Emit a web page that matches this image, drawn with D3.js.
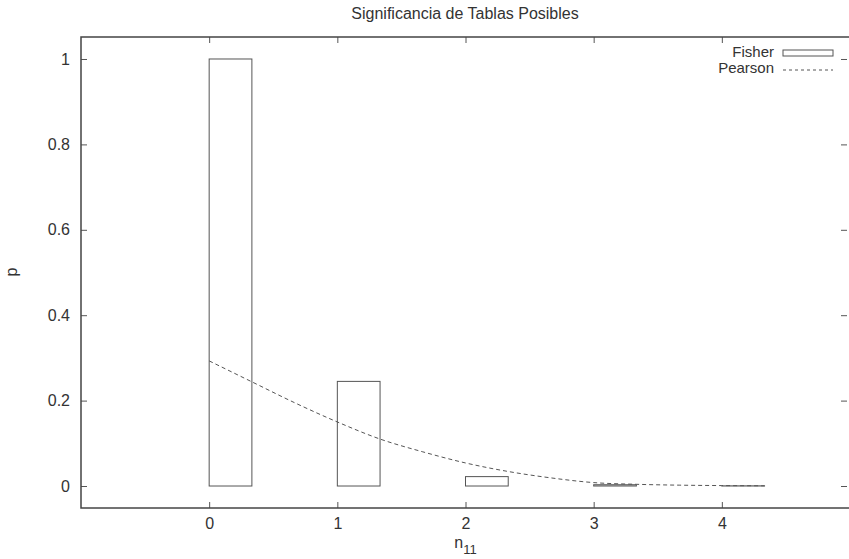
<!DOCTYPE html>
<html>
<head>
<meta charset="utf-8">
<script src="https://cdn.jsdelivr.net/npm/d3@7"></script>
<style>
  body { margin: 0; background: #fff; }
  text { font-family: "Liberation Sans", Arial, sans-serif; fill: #333; }
</style>
</head>
<body>
<div id="chart"></div>
<script>
(function () {
    // Fisher exact test p per table (bars) and Pearson chi-square curve
    const n11 = [0, 1, 2, 3, 4];
    const fisherP = [1.0, 0.245, 0.022, 0.003, 0.0004];
    const pearsonX = [0, 0.333, 0.667, 1, 1.333, 1.667, 2, 2.333, 2.667, 3, 3.333, 3.667, 4, 4.333];
    const pearsonP = [0.293, 0.244, 0.195, 0.150, 0.110, 0.080, 0.054, 0.034, 0.019, 0.008, 0.004, 0.002, 0.001, 0.0005];
    const xTicks = [0, 1, 2, 3, 4];
    const yTicks = [0, 0.2, 0.4, 0.6, 0.8, 1];

    const margin = { top: 37, right: 0, bottom: 51, left: 81 };
    const width = 850 - margin.left - margin.right;
    const height = 559 - margin.top - margin.bottom;
    const fontSize = "16px";

    const svg = d3.select("#chart")
      .append("svg")
        .attr("width", 849)
        .attr("height", 559)
      .append("g")
        .attr("transform", `translate(${margin.left},${margin.top})`);

    const x = d3.scaleLinear().domain([-1, 5]).range([0, width]);
    const y = d3.scaleLinear().domain([-0.0515, 1.0515]).range([height, 0]);

    const ink = "#555";

    // Fisher bars (outlined boxes)
    svg.append("g")
      .selectAll("rect")
      .data(n11)
      .enter()
      .append("rect")
        .attr("x", d => x(d))
        .attr("width", x(1 / 3) - x(0))
        .attr("y", (d, i) => y(fisherP[i]))
        .attr("height", (d, i) => y(0) - y(fisherP[i]))
        .attr("fill", "none")
        .attr("stroke", ink)
        .attr("stroke-width", 1);

    // Pearson dashed curve
    const line = d3.line()
      .x((d, i) => x(pearsonX[i]))
      .y(d => y(d))
      .curve(d3.curveMonotoneX);

    svg.append("path")
      .datum(pearsonP)
      .attr("d", line)
      .attr("fill", "none")
      .attr("stroke", ink)
      .attr("stroke-width", 1)
      .style("stroke-dasharray", "4,3");

    // Axes: gnuplot-like inward ticks, mirrored on top and right
    const tickLen = 6;
    const axisX = svg.append("g")
      .attr("transform", `translate(0,${height})`)
      .call(d3.axisBottom(x).tickValues(xTicks).tickSize(-tickLen).tickPadding(10).tickFormat(d3.format("d")));
    const axisY = svg.append("g")
      .call(d3.axisLeft(y).tickValues(yTicks).tickSize(-tickLen).tickPadding(11).tickFormat(d => d === 0 || d === 1 ? d : d3.format(".1f")(d)));
    const axisTop = svg.append("g")
      .call(d3.axisTop(x).tickValues(xTicks).tickSize(-tickLen).tickFormat(""));
    const axisRight = svg.append("g")
      .attr("transform", `translate(${width - 3},0)`)
      .call(d3.axisRight(y).tickValues(yTicks).tickSize(-tickLen).tickFormat(""));

    [axisX, axisY, axisTop, axisRight].forEach(a => {
        a.select(".domain").remove();
        a.selectAll(".tick line").attr("stroke", ink);
        a.selectAll("text")
          .style("font-size", fontSize)
          .style("font-family", "'Liberation Sans', Arial, sans-serif")
          .attr("fill", "#333");
    });

    // Frame
    svg.append("rect")
      .attr("x", 0)
      .attr("y", 0)
      .attr("width", width)
      .attr("height", height)
      .attr("fill", "none")
      .attr("stroke", "#444")
      .attr("stroke-width", 1.5);

    // Title
    svg.append("text")
      .attr("x", 465 - margin.left)
      .attr("y", 19 - margin.top)
      .attr("text-anchor", "middle")
      .style("font-size", fontSize)
      .text("Significancia de Tablas Posibles");

    // Y label
    svg.append("text")
      .attr("transform", `translate(${17 - margin.left},${272 - margin.top}) rotate(-90)`)
      .attr("text-anchor", "middle")
      .style("font-size", fontSize)
      .text("p");

    // X label n with subscript 11
    const xl = svg.append("text")
      .attr("x", x(2))
      .attr("y", 548 - margin.top)
      .attr("text-anchor", "middle")
      .style("font-size", fontSize);
    xl.append("tspan").text("n");
    xl.append("tspan").attr("dy", 6).style("font-size", "13px").text("11");

    // Legend
    const legend = svg.append("g")
      .attr("transform", `translate(${774 - margin.left},${57 - margin.top})`)
      .style("font-size", "15px");

    legend.append("text")
      .attr("x", 0)
      .attr("y", 0)
      .attr("text-anchor", "end")
      .text("Fisher");
    legend.append("rect")
      .attr("x", 9)
      .attr("y", -7)
      .attr("width", 50)
      .attr("height", 6)
      .attr("fill", "none")
      .attr("stroke", ink)
      .attr("stroke-width", 1);

    legend.append("text")
      .attr("x", 0)
      .attr("y", 16)
      .attr("text-anchor", "end")
      .text("Pearson");
    legend.append("line")
      .attr("x1", 9)
      .attr("x2", 59)
      .attr("y1", 13)
      .attr("y2", 13)
      .attr("stroke", ink)
      .attr("stroke-width", 1)
      .style("stroke-dasharray", "3,3");
})();
</script>
</body>
</html>
